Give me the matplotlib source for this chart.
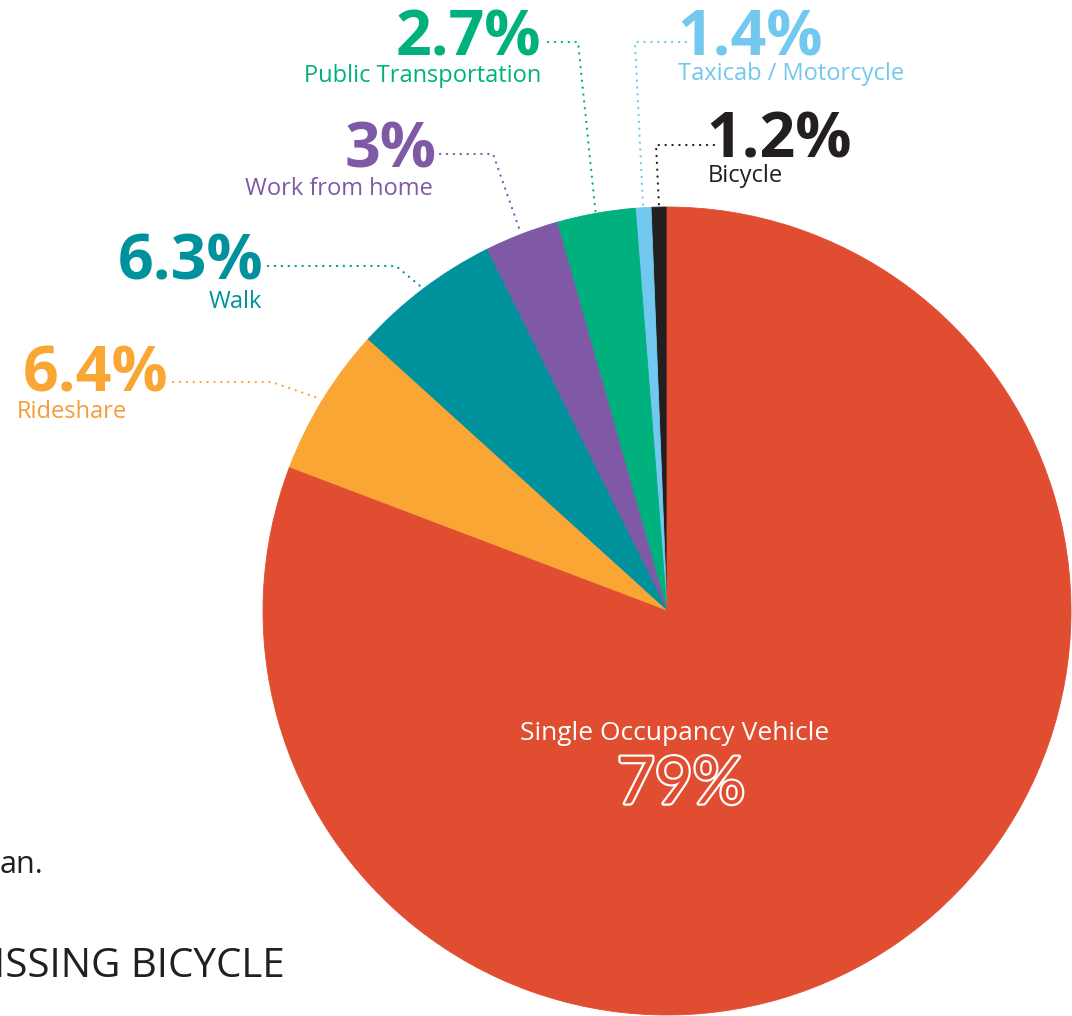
import matplotlib
matplotlib.use("Agg")
import matplotlib.pyplot as plt
import matplotlib.patheffects as pe
import numpy as np

# Canvas in pixels (1 data unit = 1 px, y measured from top via py())
W, H = 1072, 1016
DPI = 100

# Slices, counterclockwise from 12 o'clock
categories = ["Bicycle", "Taxicab / Motorcycle", "Public Transportation",
              "Work from home", "Walk", "Rideshare", "Single Occupancy Vehicle"]
pct_labels = ["1.2%", "1.4%", "2.7%", "3%", "6.3%", "6.4%", "79%"]
# share of the circle each wedge takes in the drawing
shares = [0.63, 0.62, 3.14, 2.97, 5.92, 5.95, 80.77]

colors = ["#231F20", "#72C8EE", "#00B07D", "#7F59A6", "#00929C", "#FAA634", "#E04D31"]
label_colors = ["#231F20", "#72C8EE", "#00B07D", "#7F59A6", "#00929C", "#F59B38", "white"]

# page text fragments around the chart
side_texts = ["an.", "MISSING BICYCLE"]

PCT_FONT = "Open Sans"
LBL_FONT = "Open Sans"


def py(y):
    return H - y


fig = plt.figure(figsize=(W / DPI, H / DPI), dpi=DPI)
ax = fig.add_axes([0, 0, 1, 1])

center = (667, py(611))
radius = 404
wedges, _ = ax.pie(shares, colors=colors, startangle=90, counterclock=True,
                   center=center, radius=radius,
                   wedgeprops=dict(linewidth=0.6))
for w, c in zip(wedges, colors):
    w.set_edgecolor(c)

ax.set_xlim(0, W)
ax.set_ylim(0, H)
ax.set_aspect("auto")
ax.axis("off")

# label layout: (pct x, pct baseline, ha, label x, label baseline, leader start x, leader y, elbow x)
layout = {
    0: (706, 157, "left", 708, 182, 714, 145, 656),
    1: (677, 55, "left", 678, 80, 686, 42, 635),
    2: (541, 55, "right", 541, 82, 548, 42, 578),
    3: (437, 168, "right", 433, 195, 440, 154, 493),
    4: (263, 280, "right", 262, 308, 268, 266, 396),
    5: (168, 392, "right", 17, 418, 173, 382, 272),
}

for i, (px, pb, ha, lx, lb, sx, ly, ex) in layout.items():
    col = colors[i]
    ax.text(px, py(pb), pct_labels[i], ha=ha, va="baseline", color=col,
            fontsize=45, fontweight="bold", family=PCT_FONT)
    lha = "left" if i == 5 else ha
    ax.text(lx, py(lb), categories[i], ha=lha, va="baseline", color=label_colors[i],
            fontsize=17, family=LBL_FONT)

    # leader to the middle of the wedge edge
    w = wedges[i]
    mid = np.deg2rad((w.theta1 + w.theta2) / 2)
    endx = center[0] + (radius + 2) * np.cos(mid)
    endy = center[1] + (radius + 2) * np.sin(mid)
    ax.plot([sx, ex, endx], [py(ly), py(ly), endy], color=col, lw=1.6,
            linestyle=(0, (0.1, 3.0)), dash_capstyle="round")

# big slice labels inside the red wedge
ax.text(675, py(734), categories[6], ha="center", va="center", color="white",
        fontsize=19, family=LBL_FONT)
ax.text(681, py(785), pct_labels[6], ha="center", va="center", color=colors[6],
        fontsize=47, family="Lato",
        path_effects=[pe.Stroke(linewidth=3.2, foreground="white"), pe.Normal()])

# fragments of surrounding page text
ax.text(0, py(873), side_texts[0], ha="left", va="baseline", color="#231F20",
        fontsize=22, family=LBL_FONT)
ax.text(285, py(977), side_texts[1], ha="right", va="baseline", color="#231F20",
        fontsize=29, family=LBL_FONT)

fig.savefig("out.png", dpi=DPI)
